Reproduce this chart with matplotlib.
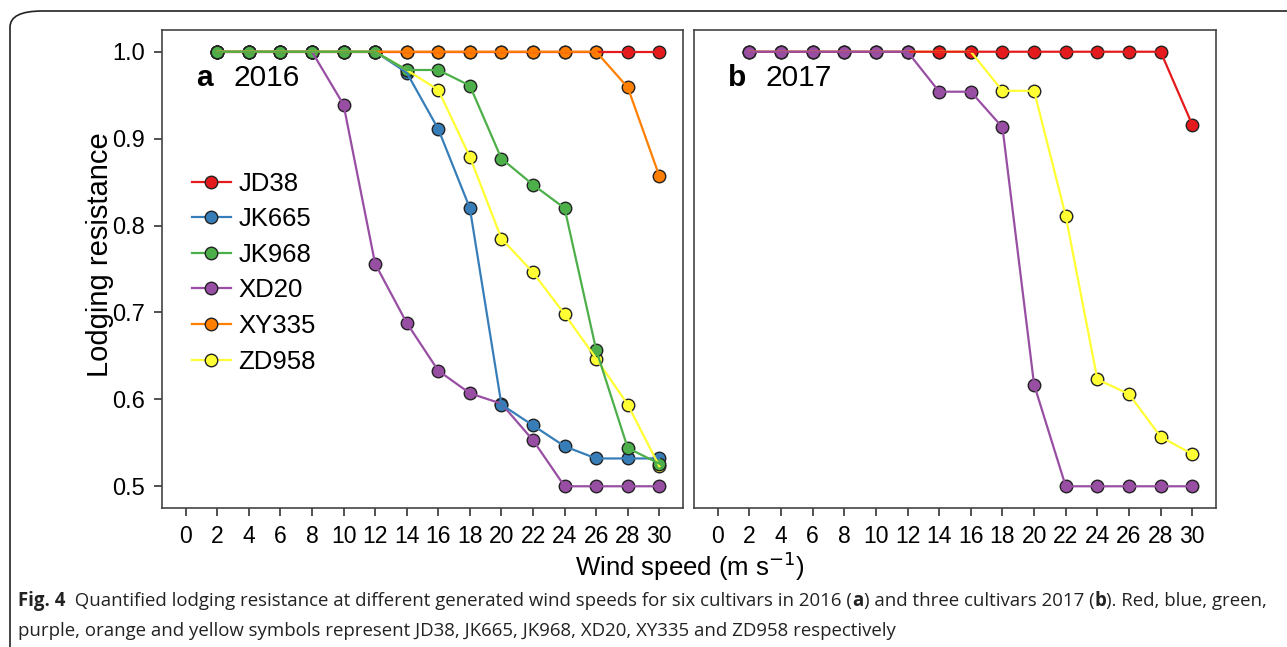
import numpy as np
import matplotlib.pyplot as plt
from matplotlib.patches import FancyBboxPatch

plt.rcParams['font.family'] = ['Liberation Sans', 'DejaVu Sans']

speed = [2, 4, 6, 8, 10, 12, 14, 16, 18, 20, 22, 24, 26, 28, 30]
xticks = list(range(0, 31, 2))
yticks = [0.5, 0.6, 0.7, 0.8, 0.9, 1.0]

# 2016
jd38_16 = [1, 1, 1, 1, 1, 1, 1, 1, 1, 1, 1, 1, 1, 1, 1]
jk665_16 = [1, 1, 1, 1, 1, 1, 0.976, 0.911, 0.820, 0.594, 0.570, 0.546, 0.532, 0.532, 0.532]
jk968_16 = [1, 1, 1, 1, 1, 1, 0.979, 0.979, 0.961, 0.877, 0.847, 0.820, 0.657, 0.544, 0.526]
xd20_16 = [1, 1, 1, 1, 0.939, 0.756, 0.688, 0.633, 0.607, 0.595, 0.553, 0.5, 0.5, 0.5, 0.5]
xy335_16 = [1, 1, 1, 1, 1, 1, 1, 1, 1, 1, 1, 1, 1, 0.959, 0.857]
zd958_16 = [1, 1, 1, 1, 1, 1, 0.979, 0.956, 0.879, 0.785, 0.746, 0.698, 0.647, 0.594, 0.523]

# 2017
jd38_17 = [1, 1, 1, 1, 1, 1, 1, 1, 1, 1, 1, 1, 1, 1, 0.916]
xd20_17 = [1, 1, 1, 1, 1, 1, 0.954, 0.954, 0.913, 0.617, 0.5, 0.5, 0.5, 0.5, 0.5]
zd958_17 = [1, 1, 1, 1, 1, 1, 1, 1, 0.955, 0.955, 0.811, 0.623, 0.606, 0.557, 0.537]

colors = {"JD38": "#e41a1c", "JK665": "#377eb8", "JK968": "#4daf4a",
          "XD20": "#984ea3", "XY335": "#ff7f00", "ZD958": "#ffff33"}

fig = plt.figure(figsize=(12.87, 6.47), dpi=100)

# outer frame of the figure box (right and bottom run off the canvas)
frame = FancyBboxPatch((10 / 1287, -0.05), 1.2, 1 - 11 / 647 + 0.05,
                       boxstyle="round,pad=0,rounding_size=0.025",
                       transform=fig.transFigure, fill=False,
                       edgecolor="#222222", linewidth=1.2, clip_on=False)
fig.patches.append(frame)

axa = fig.add_axes([162 / 1287, 1 - 508 / 647, (683 - 162) / 1287, (508 - 30) / 647])
axb = fig.add_axes([694 / 1287, 1 - 508 / 647, (1216 - 694) / 1287, (508 - 30) / 647])


def draw(ax, series):
    # markers first, lines on top of them
    for name, vals, z in series:
        ax.plot(speed, vals, linestyle="none", marker="o", markersize=9,
                markerfacecolor=colors[name], markeredgecolor="#222222",
                markeredgewidth=1.0, zorder=z)
    for name, vals, z in series:
        ax.plot(speed, vals, color=colors[name], linewidth=1.6, zorder=10 + z)


draw(axa, [("JD38", jd38_16, 2), ("JK665", jk665_16, 4), ("XD20", xd20_16, 3),
           ("ZD958", zd958_16, 5), ("XY335", xy335_16, 6), ("JK968", jk968_16, 7)])
draw(axb, [("ZD958", zd958_17, 2), ("JD38", jd38_17, 3), ("XD20", xd20_17, 4)])

for ax in (axa, axb):
    ax.set_xlim(-1.5, 31.5)
    ax.set_ylim(0.475, 1.025)
    ax.set_xticks(xticks)
    ax.set_xticklabels([str(t) for t in xticks], fontsize=16.5)
    ax.tick_params(direction="out", length=6, width=1.2, color="#333333",
                   labelcolor="black", pad=6)
    for s in ax.spines.values():
        s.set_color("#444444")
        s.set_linewidth(1.2)

axa.set_yticks(yticks)
axa.set_yticklabels([f"{t:.1f}" for t in yticks], fontsize=17)
axb.set_yticks([])
axa.set_ylabel("Lodging resistance", fontsize=21)
axa.yaxis.set_label_coords(-0.092, 0.531)

for ax, lab, yr in ((axa, "a", "2016"), (axb, "b", "2017")):
    ax.text(0.066, 0.9, lab, transform=ax.transAxes, fontsize=21.5,
            va="center", fontweight="bold")
    ax.text(0.137, 0.9, yr, transform=ax.transAxes, fontsize=21.5, va="center")

# legend
names = ["JD38", "JK665", "JK968", "XD20", "XY335", "ZD958"]
handles = [plt.Line2D([], [], color=colors[n], linewidth=1.6, marker="o",
                      markersize=9, markerfacecolor=colors[n],
                      markeredgecolor="#222222") for n in names]
axa.legend(handles, names, loc="upper left", bbox_to_anchor=(0.038, 0.725),
           frameon=False, fontsize=18.5, handlelength=1.5, handletextpad=0.3,
           labelspacing=0.45, borderaxespad=0)

fig.text(690 / 1287, 1 - 566 / 647, r"Wind speed (m s$^{-1}$)", fontsize=18.5,
         ha="center", va="center")

cap_font = ["Open Sans", "DejaVu Sans"]
cap_size = 13.4
cap_y1 = 1 - 601 / 647
cap_y2 = 1 - 631 / 647
fig.text(18 / 1287, cap_y2,
         "purple, orange and yellow symbols represent JD38, JK665, JK968, XD20, XY335 and ZD958 respectively",
         fontsize=cap_size, family=cap_font, va="center", color="#222222")

# first caption line is built from pieces, bold and normal
fig.canvas.draw()
r = fig.canvas.get_renderer()
x = 18
parts = [("Fig. 4", "bold"), ("  Quantified lodging resistance at different generated wind speeds for six cultivars in 2016 (", "normal"),
         ("a", "bold"), (") and three cultivars 2017 (", "normal"), ("b", "bold"),
         ("). Red, blue, green,", "normal")]
for s, w in parts:
    t = fig.text(x / fig.bbox.width, cap_y1, s, fontsize=cap_size, fontweight=w,
                 family=cap_font, va="center", color="#222222")
    x = t.get_window_extent(r).x1

fig.savefig("out.png", dpi=100)
